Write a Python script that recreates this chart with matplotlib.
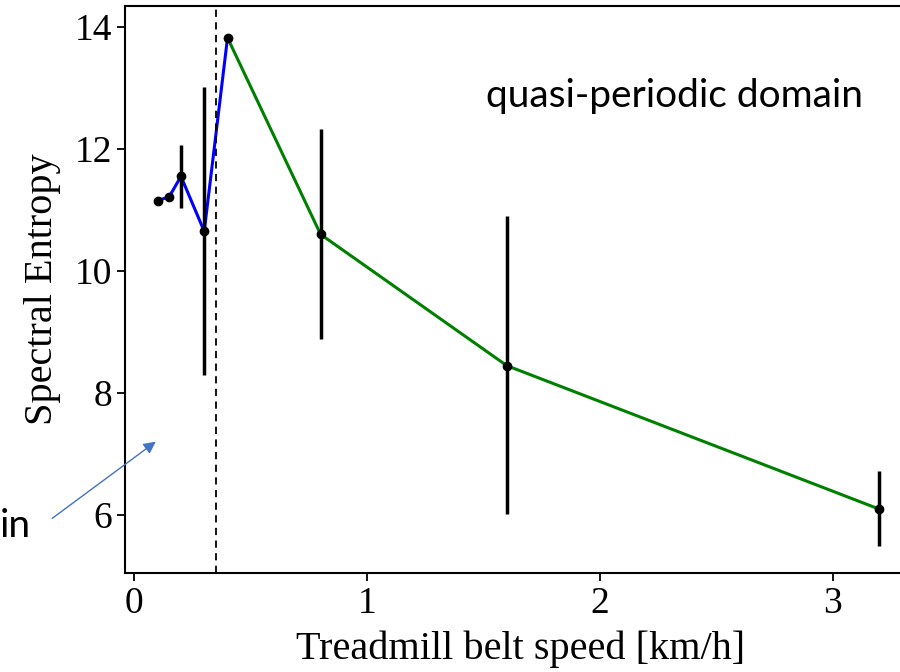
import matplotlib.pyplot as plt

# velocita' del nastro e entropia spettrale
speed = [0.1, 0.15, 0.2, 0.3, 0.4, 0.8, 1.6, 3.2]
entropy = [11.15, 11.22, 11.55, 10.65, 13.82, 10.6, 8.45, 6.1]
err_lo = [0.0, 0.0, 0.52, 2.35, 0.0, 1.72, 2.43, 0.6]
err_hi = [0.0, 0.0, 0.52, 2.37, 0.0, 1.73, 2.45, 0.63]

n_blue = 5          # primi punti in blu (fino a 0.4)
soglia = 0.35       # linea tratteggiata

plt.rcParams['font.family'] = ['Liberation Serif', 'DejaVu Serif']

fig = plt.figure(figsize=(9, 6.72), dpi=100)
ax = fig.add_axes([0.139, 0.147, 0.878, 0.844])

ax.plot(speed[:n_blue], entropy[:n_blue], color='blue', lw=2.2, zorder=2)
ax.plot(speed[n_blue - 1:], entropy[n_blue - 1:], color='green', lw=2.2, zorder=2)
ax.errorbar(speed, entropy, yerr=[err_lo, err_hi], fmt='o', color='black',
            ms=6, elinewidth=2.5, capsize=0, zorder=3)
ax.axvline(soglia, color='black', ls='--', lw=1.3, dashes=(4, 3))

ax.set_xlim(-0.04, 3.355)
ax.set_ylim(5.05, 14.34)
ax.set_xticks([0, 1, 2, 3])
ax.set_yticks([6, 8, 10, 12, 14])
ax.tick_params(labelsize=27, width=1.3, length=6)
for s in ax.spines.values():
    s.set_linewidth(1.5)
ax.spines['right'].set_visible(False)

ax.set_xlabel("Treadmill belt speed [km/h]", fontsize=29, labelpad=7)
ax.set_ylabel("Spectral Entropy", fontsize=29, labelpad=10)

fig.text(0.54, 0.857, "quasi-periodic domain", fontsize=28,
         family=['Lato', 'DejaVu Sans'], ha='left', va='center')
fig.text(0.0, 0.218, "in", fontsize=28, family=['Lato', 'DejaVu Sans'],
         ha='left', va='center')
fig.add_artist(plt.Annotation("", xy=(158 / 900, 1 - 440 / 672),
                              xytext=(50 / 900, 1 - 520 / 672),
                              xycoords='figure fraction',
                              arrowprops=dict(arrowstyle='-|>', color='#4472C4',
                                              lw=1, mutation_scale=18)))

fig.savefig("out.png", dpi=100)
